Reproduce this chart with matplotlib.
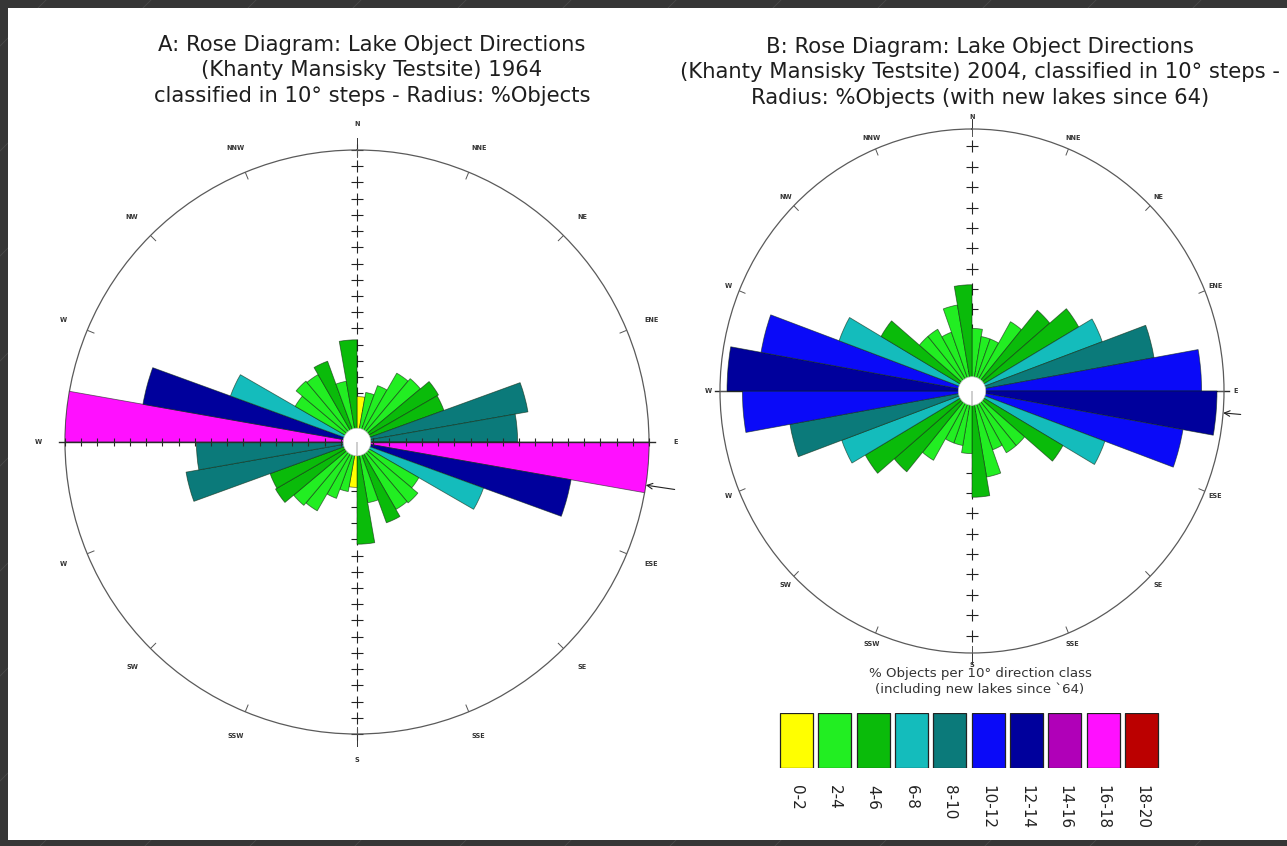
import numpy as np
import matplotlib
matplotlib.use('Agg')
import matplotlib.pyplot as plt
from matplotlib.patches import Rectangle
from matplotlib.lines import Line2D

# ---------------- data ----------------
bin_start_deg = np.arange(0, 180, 10)          # 10 degree classes, axial data (mirrored +180)
pct_1964 = [2.8, 3.1, 3.7, 4.9, 5.1, 5.8, 5.7, 10.7, 9.9,
            18.0, 13.4, 8.3, 4.4, 4.9, 4.8, 5.3, 3.8, 6.3]
class_1964 = [0, 1, 1, 1, 1, 2, 2, 4, 4, 8, 6, 3, 1, 1, 1, 2, 1, 2]
pct_2004 = [4.3, 3.8, 3.8, 5.5, 7.25, 8.8, 9.9, 13.2, 16.4,
            17.5, 15.3, 10.1, 7.5, 4.9, 4.9, 4.3, 6.0, 7.3]
class_2004 = [1, 1, 1, 1, 2, 2, 3, 4, 5, 6, 5, 3, 2, 1, 1, 1, 1, 2]
class_labels = ['0-2', '2-4', '4-6', '6-8', '8-10', '10-12', '12-14', '14-16', '16-18', '18-20']
class_colors = ['#ffff00', '#22ee22', '#0abb0a', '#14bcbc', '#0b7a7a',
                '#0a0af8', '#00009c', '#b000b8', '#ff10ff', '#bb0000']
compass_labels_A = ['N', 'NNE', 'NE', 'ENE', 'E', 'ESE', 'SE', 'SSE',
                    'S', 'SSW', 'SW', 'W', 'W', 'W', 'NW', 'NNW']
compass_labels_B = ['N', 'NNE', 'NE', 'ENE', 'E', 'ESE', 'SE', 'SSE',
                    'S', 'SSW', 'SW', 'W', 'W', 'W', 'NW', 'NNW']
title_A = ['A: Rose Diagram: Lake Object Directions',
           '(Khanty Mansisky Testsite) 1964',
           'classified in 10° steps - Radius: %Objects']
title_B = ['B: Rose Diagram: Lake Object Directions',
           '(Khanty Mansisky Testsite) 2004, classified in 10° steps -',
           'Radius: %Objects (with new lakes since 64)']
legend_title = ['% Objects per 10° direction class', '(including new lakes since `64)']
RMAX = 18.0

# ---------------- figure ----------------
W, H = 1287, 846
fig = plt.figure(figsize=(W / 100, H / 100), dpi=100)
fig.patch.set_facecolor('#363636')


def fx(x):
    return x / W


def fy(y):
    return 1 - y / H


# faint diagonal strokes in the dark frame
for x0 in np.arange(-800, 1400, 105):
    fig.add_artist(Line2D([fx(x0), fx(x0 + 846)], [0, 1], color='#4a4a4a', lw=0.6, zorder=0))
fig.add_artist(Rectangle((fx(8), fy(840)), 1 - fx(8), fy(8) - fy(840),
                         transform=fig.transFigure, facecolor='white', edgecolor='none', zorder=0.5))


def rose(ax, pct, cls, hole, cross_step, hline_on_top, label_r, lab_names, arrow):
    ax.set_facecolor('none')
    theta = np.deg2rad(np.concatenate([bin_start_deg, bin_start_deg + 180]) + 5)
    r = np.concatenate([pct, pct])
    cols = [class_colors[c] for c in list(cls) * 2]
    ax.set_theta_zero_location('N')
    ax.set_theta_direction(-1)
    ax.set_ylim(0, RMAX)
    ax.set_xticks([])
    ax.set_yticks([])
    ax.grid(False)
    ax.spines['polar'].set_color('#5a5a5a')
    ax.spines['polar'].set_linewidth(0.9)
    # vertical axis crosses (N-S)
    rr = np.arange(cross_step, RMAX + 0.01, cross_step)
    for th in (0, np.pi):
        ax.plot(np.full(rr.size, th), rr, ls='none', marker='+', ms=8.5, mew=0.8,
                color='#222222', zorder=2, clip_on=False)
        ax.plot([th, th], [RMAX * 0.985, RMAX * 1.04], color='#333333', lw=0.7, zorder=2, clip_on=False)
    # horizontal axis (W-E)
    hz = 4 if hline_on_top else 1
    for th in (np.pi / 2, 3 * np.pi / 2):
        ax.plot([th, th], [0, RMAX * 1.02], color='#2a2a2a', lw=1.0, zorder=hz, clip_on=False)
        if hline_on_top:
            rt = np.arange(1, RMAX + 0.01, 1)
            ax.plot(np.full(rt.size, th), rt, ls='none', marker='|', ms=6, mew=0.8,
                    color='#2a2a2a', zorder=hz, clip_on=False)
    # bars
    ax.bar(theta, r, width=np.deg2rad(10), bottom=0, color=cols,
           edgecolor=(0.05, 0.15, 0.05, 0.6), linewidth=0.6, zorder=3)
    # central hole
    ax.bar(0, hole, width=2 * np.pi, bottom=0, color='white', edgecolor='#bbbbbb',
           linewidth=0.5, zorder=6)
    # circle ticks and compass labels
    for k, name in enumerate(lab_names):
        th = np.deg2rad(k * 22.5)
        ax.plot([th, th], [RMAX * 0.975, RMAX], color='#555555', lw=0.7, zorder=2)
        ax.text(th, RMAX * label_r, name, ha='center', va='center', fontsize=4.7,
                fontweight='bold', color='#333333', clip_on=False, zorder=7)
    # arrow at the longest class
    ax.annotate('', xy=(np.deg2rad(arrow[0]), RMAX * 1.0),
                xytext=(np.deg2rad(arrow[0]), RMAX * arrow[1]),
                arrowprops=dict(arrowstyle='->', lw=0.8, color='#222222', shrinkA=0, shrinkB=0),
                annotation_clip=False, zorder=8)


# Panel A
RA, cxA, cyA = 292, 357, 442
axA = fig.add_axes([fx(cxA - RA), fy(cyA + RA), 2 * RA / W, 2 * RA / H], projection='polar')
axA.set_zorder(1)
rose(axA, pct_1964, class_1964, 0.85, 1.0, True, 1.09, compass_labels_A, (98.5, 1.1))

# Panel B (slightly taller than wide, as in the reference)
RxB, RyB, cxB, cyB = 252, 262, 972, 391
axB = fig.add_axes([fx(cxB - RxB), fy(cyB + RyB), 2 * RxB / W, 2 * RyB / H], projection='polar')
axB.set_aspect('auto')
axB.set_zorder(1)
rose(axB, pct_2004, class_2004, 0.98, 1.4, False, 1.045, compass_labels_B, (94.8, 1.07))

# Titles
for i, line in enumerate(title_A):
    fig.text(fx(372), fy(45 + 25.5 * i), line, ha='center', va='center', fontsize=15.2,
             color='#1e1e1e', zorder=5)
for i, line in enumerate(title_B):
    fig.text(fx(980), fy(47 + 25.5 * i), line, ha='center', va='center', fontsize=15.2,
             color='#1e1e1e', zorder=5)

# Legend
for i, line in enumerate(legend_title):
    fig.text(fx(980), fy(673 + 16 * i), line, ha='center', va='center', fontsize=9.6,
             color='#333333', zorder=5)
pitch = 38.33
axL = fig.add_axes([fx(796.5 - pitch / 2), fy(768), 10 * pitch / W, 55 / H])
axL.set_zorder(1)
axL.set_facecolor('none')
axL.bar(np.arange(len(class_labels)), 1, width=0.86, color=class_colors,
        edgecolor='#222222', linewidth=0.9)
axL.set_xlim(-0.5, len(class_labels) - 0.5)
axL.set_ylim(0, 1)
axL.axis('off')
for i, lab in enumerate(class_labels):
    axL.text(i, -0.3, lab, rotation=270, ha='center', va='top', fontsize=11,
             color='#222222', clip_on=False)

fig.savefig('out.png', dpi=100, facecolor=fig.get_facecolor())
